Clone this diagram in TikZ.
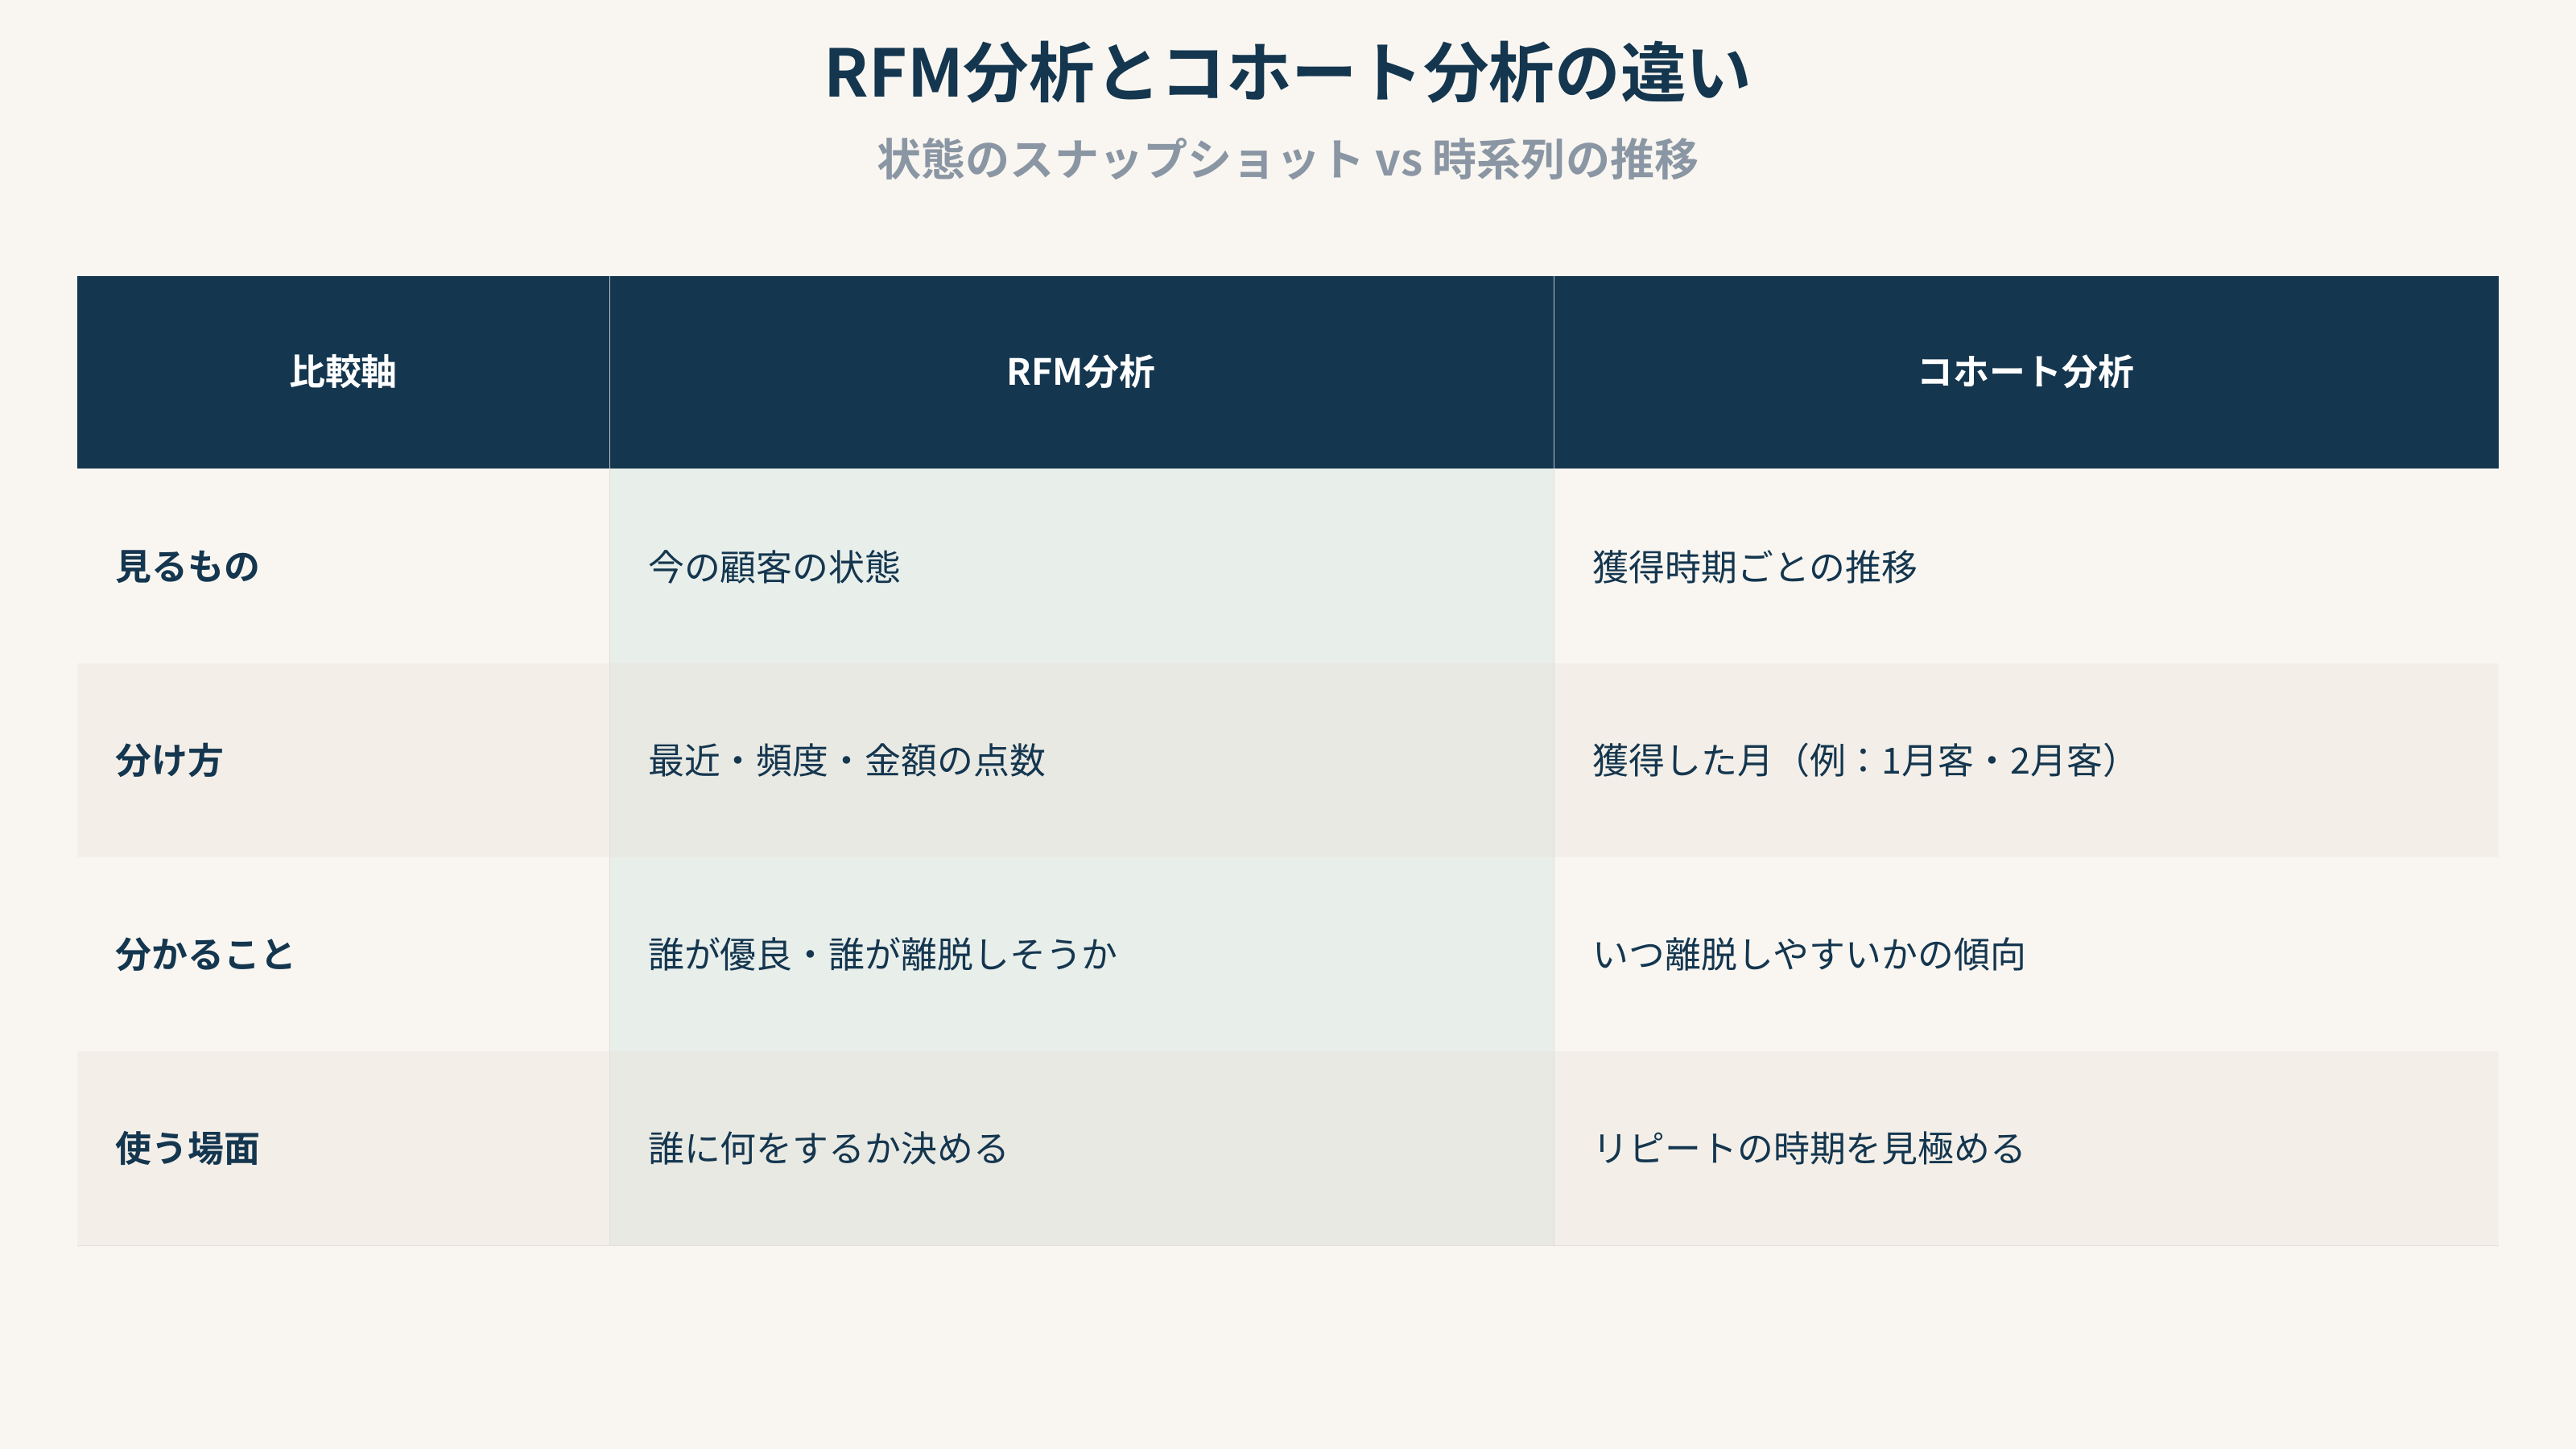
\documentclass[tikz,border=0pt]{standalone}
\usepackage{fontspec}
\setmainfont{Noto Sans CJK JP}
\newfontfamily\jpb{Noto Sans CJK JP Bold}
\definecolor{bg}{HTML}{F9F6F1}
\definecolor{navy}{HTML}{14364F}
\definecolor{alt}{HTML}{F3EFE8}
\definecolor{tintA}{HTML}{E8EEEA}
\definecolor{tintB}{HTML}{E9E9E3}
\definecolor{sub}{HTML}{8A96A3}
\definecolor{grid}{HTML}{E2DED6}
\tikzset{
 cell/.style={anchor=west,text=navy,font=\fontsize{22}{26}\selectfont},
 rowh/.style={anchor=west,text=navy,font=\jpb\fontsize{22}{26}\selectfont},
 head/.style={text=white,font=\jpb\fontsize{22}{26}\selectfont},
}
\begin{document}
\begin{tikzpicture}[x=1pt,y=-1pt]
\fill[bg] (0,0) rectangle (1568,882);
\useasboundingbox (0,0) rectangle (1568,882);
\node[text=navy,font=\jpb\fontsize{40}{46}\selectfont] (title) at (784,44) {RFM分析とコホート分析の違い};
\node[text=sub,font=\jpb\fontsize{27}{32}\selectfont] (subt) at (784,97) {状態のスナップショット vs 時系列の推移};
% rows
\fill[alt] (47,404) rectangle (1521,522);
\fill[alt] (47,640) rectangle (1521,758);
\fill[tintA] (371,285) rectangle (946,404);
\fill[tintB] (371,404) rectangle (946,522);
\fill[tintA] (371,522) rectangle (946,640);
\fill[tintB] (371,640) rectangle (946,758);
\draw[grid] (371,285) -- (371,758) (946,285) -- (946,758);
\draw[grid] (47,758) -- (1521,758);
\fill[navy] (47,168) rectangle (1521,285);
\draw[white!70!navy] (371,168) -- (371,285) (946,168) -- (946,285);
\node[head] (h1) at (209,226) {比較軸};
\node[head] (h2) at (658,226) {RFM分析};
\node[head] (h3) at (1233,226) {コホート分析};
\node[rowh] (r1) at (67,345) {見るもの};
\node[rowh] (r2) at (67,463) {分け方};
\node[rowh] (r3) at (67,581) {分かること};
\node[rowh] (r4) at (67,699) {使う場面};
\node[cell] (a1) at (391,345) {今の顧客の状態};
\node[cell] (a2) at (391,463) {最近・頻度・金額の点数};
\node[cell] (a3) at (391,581) {誰が優良・誰が離脱しそうか};
\node[cell] (a4) at (391,699) {誰に何をするか決める};
\node[cell] (b1) at (966,345) {獲得時期ごとの推移};
\node[cell] (b2) at (966,463) {獲得した月（例：1月客・2月客）};
\node[cell] (b3) at (966,581) {いつ離脱しやすいかの傾向};
\node[cell] (b4) at (966,699) {リピートの時期を見極める};
\end{tikzpicture}
\end{document}
